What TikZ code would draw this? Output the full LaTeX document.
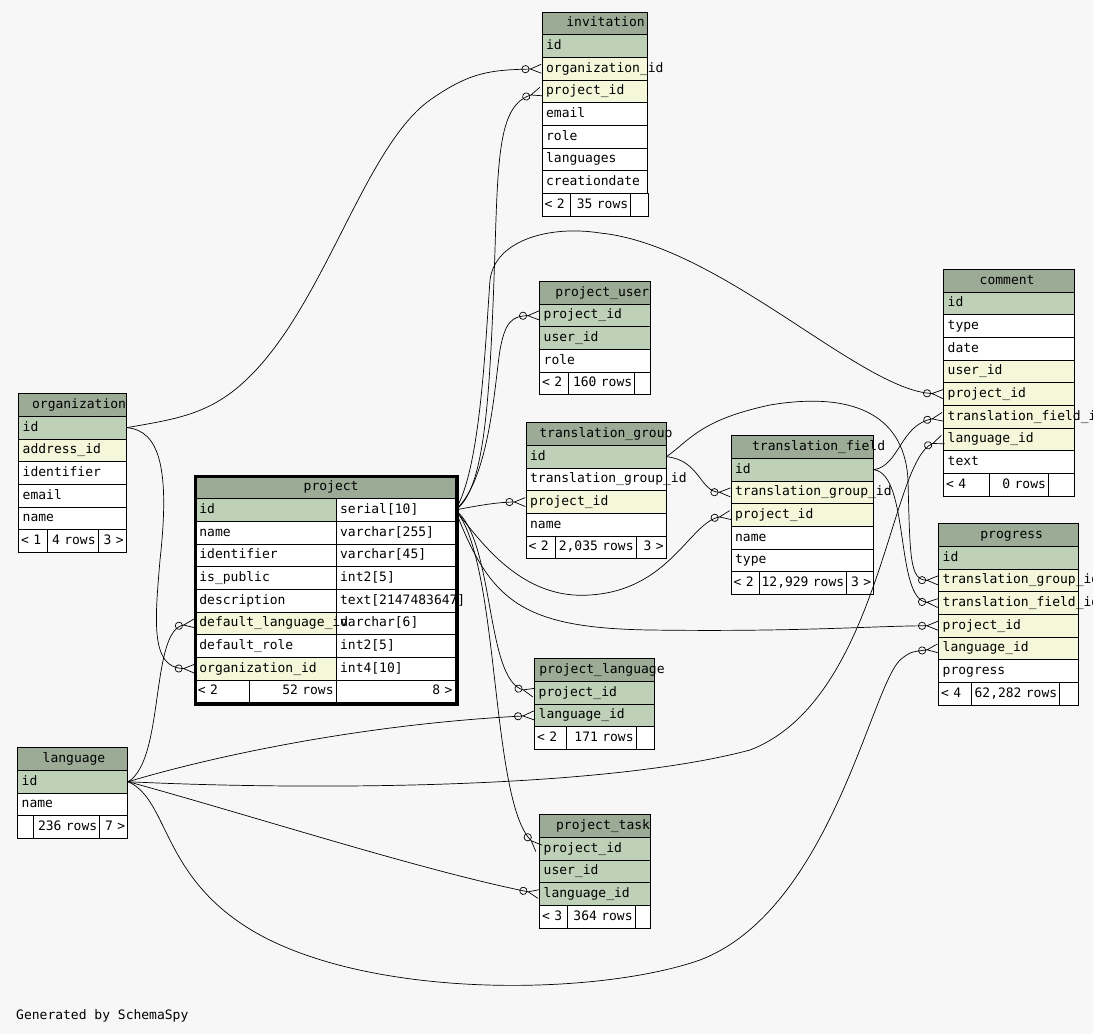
\documentclass[tikz,border=0pt]{standalone}
\usepackage{fontspec}
\setmonofont{DejaVu Sans Mono}
\usepackage{tikz}
\usetikzlibrary{arrows.meta}
\definecolor{pagebg}{HTML}{F7F7F7}
\definecolor{headgreen}{HTML}{9BAB96}
\definecolor{pkgreen}{HTML}{BED1B8}
\definecolor{fkyellow}{HTML}{F4F7DA}
\newcommand{\tabfont}{\ttfamily\fontsize{13}{15}\selectfont}
\tikzset{
  tabcell/.style={draw=black,line width=0.8pt,anchor=north west,
                  inner xsep=4pt,inner ysep=0pt,minimum height=22.67pt,
                  text height=10pt,text depth=3.2pt,align=left,font=\tabfont},
  headcell/.style={tabcell,fill=headgreen},
  footl/.style={tabcell,fill=white,inner xsep=2.5pt,align=left},
  footr/.style={tabcell,fill=white,inner xsep=2.5pt,align=right},
  boldframe/.style={draw=black,line width=3pt,anchor=north west,inner sep=0pt},
  fklink/.style={draw=black,line width=0.7pt,
                 -{Circle[open,length=8pt,width=8pt]Straight Barb[reversed,length=11pt,width=9pt]}}
}

\begin{document}
\begin{tikzpicture}[x=1pt,y=-1pt]
  \fill[pagebg] (0,0) rectangle (1093,1034);
  \path[use as bounding box] (0,0) rectangle (1093,1034);

  % invitation
  \node[headcell,inner xsep=24.3pt,text width=57pt] (inv) at (541.7,11.7) {\mbox{invitation}};
  \foreach \n/\txt/\bg [count=\i] in {id/id/pkgreen,org/organization\_id/fkyellow,
      prj/project\_id/fkyellow,mail/email/white,role/role/white,
      lang/languages/white,date/creationdate/white}
    \node[tabcell,fill=\bg,text width=97.6pt] (inv-\n) at (541.7,{11.7+22.67*\i}) {\mbox{\txt}};
  \foreach \x/\w/\al/\txt [count=\j] in {541.7/23.6/footl/{< 2},570.3/55/footr/{35 rows},630.3/12.3/footl/{}}
    \node[\al,text width=\w pt] (inv-f\j) at (\x,193.06) {\mbox{\txt}};

  % organization
  \node[headcell,inner xsep=13.4pt,text width=80.6pt] (org) at (18.3,393.3) {\mbox{organization}};
  \foreach \n/\txt/\bg [count=\i] in {id/id/pkgreen,addr/address\_id/fkyellow,
      ident/identifier/white,mail/email/white,name/name/white}
    \node[tabcell,fill=\bg,text width=99.4pt] (org-\n) at (18.3,{393.3+22.67*\i}) {\mbox{\txt}};
  \foreach \x/\w/\al/\txt [count=\j] in {18.3/23.4/footl/{< 1},46.7/46/footr/{4 rows},97.7/23/footr/{3 >}}
    \node[\al,text width=\w pt] (org-f\j) at (\x,529.32) {\mbox{\txt}};

  % project
  \node[headcell,inner xsep=108.3pt,text width=42.9pt] (prj-head) at (195,475.63) {\mbox{project}};
  \foreach \n/\txt [count=\i] in {idt/serial[10],namet/varchar[255],identt/varchar[45],
      pubt/int2[5],desct/text[2147483647],dlangt/varchar[6],rolet/int2[5],orgt/int4[10]}
    \node[tabcell,fill=white,text width=110.8pt] (prj-\n) at (335.7,{475.63+22.67*\i}) {\mbox{\txt}};
  \foreach \n/\txt/\bg [count=\i] in {id/id/pkgreen,name/name/white,ident/identifier/white,
      pub/is\_public/white,desc/description/white,dlang/default\_language\_id/fkyellow,
      role/default\_role/white,org/organization\_id/fkyellow}
    \node[tabcell,fill=\bg,text width=132.7pt] (prj-\n) at (195,{475.63+22.67*\i}) {\mbox{\txt}};
  \foreach \x/\w/\al/\txt [count=\j] in {195/49.3/footl/{< 2},249.3/81.4/footr/{52 rows},335.7/113.8/footr/{8 >}}
    \node[\al,text width=\w pt] (prj-f\j) at (\x,679.66) {\mbox{\txt}};
  \node[boldframe,minimum width=262.5pt,minimum height=228.5pt] (prj) at (193.5,474.5) {};

  % project_user
  \node[headcell,inner xsep=15.7pt,text width=79.3pt] (pu) at (539.3,281) {\mbox{project\_user}};
  \foreach \n/\txt/\bg [count=\i] in {prj/project\_id/pkgreen,user/user\_id/pkgreen,role/role/white}
    \node[tabcell,fill=\bg,text width=102.7pt] (pu-\n) at (539.3,{281+22.67*\i}) {\mbox{\txt}};
  \foreach \x/\w/\al/\txt [count=\j] in {539.3/23.4/footl/{< 2},567.7/61.6/footr/{160 rows},634.3/10.7/footl/{}}
    \node[\al,text width=\w pt] (pu-f\j) at (\x,371.68) {\mbox{\txt}};

  % translation_group
  \node[headcell,inner xsep=13.3pt,text width=113.4pt] (tg) at (525.7,422.3) {\mbox{translation\_group}};
  \foreach \n/\txt/\bg [count=\i] in {id/id/pkgreen,tgid/translation\_group\_id/white,
      prj/project\_id/fkyellow,name/name/white}
    \node[tabcell,fill=\bg,text width=132pt] (tg-\n) at (525.7,{422.3+22.67*\i}) {\mbox{\txt}};
  \foreach \x/\w/\al/\txt [count=\j] in {525.7/24.6/footl/{< 2},555.3/75.4/footr/{2,035 rows},635.7/25/footr/{3 >}}
    \node[\al,text width=\w pt] (tg-f\j) at (\x,535.65) {\mbox{\txt}};

  % translation_field
  \node[headcell,inner xsep=21pt,text width=100.6pt] (tf) at (730.7,435.3) {\mbox{translation\_field}};
  \foreach \n/\txt/\bg [count=\i] in {id/id/pkgreen,tg/translation\_group\_id/fkyellow,
      prj/project\_id/fkyellow,name/name/white,type/type/white}
    \node[tabcell,fill=\bg,text width=134.6pt] (tf-\n) at (730.7,{435.3+22.67*\i}) {\mbox{\txt}};
  \foreach \x/\w/\al/\txt [count=\j] in {730.7/23/footl/{< 2},758.7/82/footr/{12,929 rows},845.7/22.6/footr/{3 >}}
    \node[\al,text width=\w pt] (tf-f\j) at (\x,571.32) {\mbox{\txt}};

  % comment
  \node[headcell,inner xsep=36pt,text width=58.7pt] (cm) at (943.3,269) {\mbox{comment}};
  \foreach \n/\txt/\bg [count=\i] in {id/id/pkgreen,type/type/white,date/date/white,
      user/user\_id/fkyellow,prj/project\_id/fkyellow,tf/translation\_field\_id/fkyellow,
      lang/language\_id/fkyellow,text/text/white}
    \node[tabcell,fill=\bg,text width=122.7pt] (cm-\n) at (943.3,{269+22.67*\i}) {\mbox{\txt}};
  \foreach \x/\w/\al/\txt [count=\j] in {943.3/41/footl/{< 4},989.3/53.7/footr/{0 rows},1048/21/footl/{}}
    \node[\al,text width=\w pt] (cm-f\j) at (\x,473.03) {\mbox{\txt}};

  % progress
  \node[headcell,inner xsep=41.7pt,text width=56.6pt] (pg) at (938.3,523.3) {\mbox{progress}};
  \foreach \n/\txt/\bg [count=\i] in {id/id/pkgreen,tg/translation\_group\_id/fkyellow,
      tf/translation\_field\_id/fkyellow,prj/project\_id/fkyellow,
      lang/language\_id/fkyellow,prog/progress/white}
    \node[tabcell,fill=\bg,text width=132pt] (pg-\n) at (938.3,{523.3+22.67*\i}) {\mbox{\txt}};
  \foreach \x/\w/\al/\txt [count=\j] in {938.3/27.4/footl/{< 4},970.7/83.6/footr/{62,282 rows},1059.3/14/footl/{}}
    \node[\al,text width=\w pt] (pg-f\j) at (\x,682) {\mbox{\txt}};

  % language
  \node[headcell,inner xsep=25pt,text width=60pt] (lang) at (17.3,747.3) {\mbox{language}};
  \foreach \n/\txt/\bg [count=\i] in {id/id/pkgreen,name/name/white}
    \node[tabcell,fill=\bg,text width=102pt] (lang-\n) at (17.3,{747.3+22.67*\i}) {\mbox{\txt}};
  \foreach \x/\w/\al/\txt [count=\j] in {17.3/11/footl/{},33.3/61/footr/{236 rows},99.3/23/footr/{7 >}}
    \node[\al,text width=\w pt] (lang-f\j) at (\x,815.31) {\mbox{\txt}};

  % project_language
  \node[headcell,inner xsep=4.7pt,text width=110.6pt] (pl) at (534.3,658.3) {\mbox{project\_language}};
  \foreach \n/\txt/\bg [count=\i] in {prj/project\_id/pkgreen,lang/language\_id/pkgreen}
    \node[tabcell,fill=\bg,text width=112pt] (pl-\n) at (534.3,{658.3+22.67*\i}) {\mbox{\txt}};
  \foreach \x/\w/\al/\txt [count=\j] in {534.3/27/footl/{< 2},566.3/64.4/footr/{171 rows},635.7/13.6/footl/{}}
    \node[\al,text width=\w pt] (pl-f\j) at (\x,726.31) {\mbox{\txt}};

  % project_task
  \node[headcell,inner xsep=16.4pt,text width=77.9pt] (pt) at (539.3,814.3) {\mbox{project\_task}};
  \foreach \n/\txt/\bg [count=\i] in {prj/project\_id/pkgreen,user/user\_id/pkgreen,lang/language\_id/pkgreen}
    \node[tabcell,fill=\bg,text width=102.7pt] (pt-\n) at (539.3,{814.3+22.67*\i}) {\mbox{\txt}};
  \foreach \x/\w/\al/\txt [count=\j] in {539.3/23/footl/{< 3},567.3/62.4/footr/{364 rows},634.7/10.3/footl/{}}
    \node[\al,text width=\w pt] (pt-f\j) at (\x,904.98) {\mbox{\txt}};

  % foreign keys
  \draw[fklink] (org-id.east) .. controls (170,420) and (200,416) .. (232,392)
    .. controls (320,325) and (360,150) .. (430,100) .. controls (470,72) and (490,70) .. (inv-org.west);
  \draw[fklink] (prj-idt.east) .. controls (485,490) and (490,400) .. (495,250)
    .. controls (498,150) and (500,105) .. (inv-prj.west);
  \draw[fklink] (prj-idt.east) .. controls (490,480) and (495,380) .. (500,350)
    .. controls (505,322) and (512,316) .. (pu-prj.west);
  \draw[fklink] (prj-idt.east) .. controls (480,470) and (485,350) .. (490,280)
    .. controls (495,240) and (550,225) .. (600,233) .. controls (720,245) and (860,390) .. (cm-prj.west);
  \draw[fklink] (prj-idt.east) .. controls (480,505) and (500,502) .. (tg-prj.west);
  \draw[fklink] (prj-idt.east) .. controls (480,540) and (520,600) .. (590,595)
    .. controls (670,590) and (690,522) .. (tf-prj.west);
  \draw[fklink] (prj-idt.east) .. controls (490,600) and (520,628) .. (650,630)
    .. controls (800,632) and (870,626) .. (pg-prj.west);
  \draw[fklink] (prj-idt.east) .. controls (495,540) and (485,680) .. (pl-prj.west);
  \draw[fklink] (prj-idt.east) .. controls (500,560) and (490,800) .. (pt-prj.west);
  \draw[fklink] (lang-id.east) .. controls (165,760) and (150,630) .. (prj-dlang.west);
  \draw[fklink] (org-id.east) .. controls (160,430) and (170,470) .. (160,560)
    .. controls (155,620) and (150,668) .. (prj-org.west);
  \draw[fklink] (tg-id.east) .. controls (700,460) and (700,492) .. (tf-tg.west);
  \draw[fklink] (tg-id.east) .. controls (690,440) and (700,420) .. (770,405)
    .. controls (860,390) and (905,420) .. (908,480) .. controls (910,560) and (910,580) .. (pg-tg.west);
  \draw[fklink] (tf-id.east) .. controls (900,465) and (900,425) .. (cm-tf.west);
  \draw[fklink] (tf-id.east) .. controls (910,475) and (895,600) .. (pg-tf.west);
  \draw[fklink] (lang-id.east) .. controls (300,790) and (600,790) .. (750,750)
    .. controls (880,700) and (890,460) .. (cm-lang.west);
  \draw[fklink] (lang-id.east) .. controls (170,800) and (160,880) .. (260,935)
    .. controls (380,1000) and (600,995) .. (700,960) .. controls (830,910) and (870,690) .. (900,660)
    .. controls (910,652) .. (pg-lang.west);
  \draw[fklink] (lang-id.east) .. controls (200,760) and (350,725) .. (pl-lang.west);
  \draw[fklink] (lang-id.east) .. controls (250,815) and (420,870) .. (pt-lang.west);

  \node[font=\tabfont,anchor=west,inner sep=0pt] (credit) at (16,1016) {Generated by SchemaSpy};
\end{tikzpicture}
\end{document}
